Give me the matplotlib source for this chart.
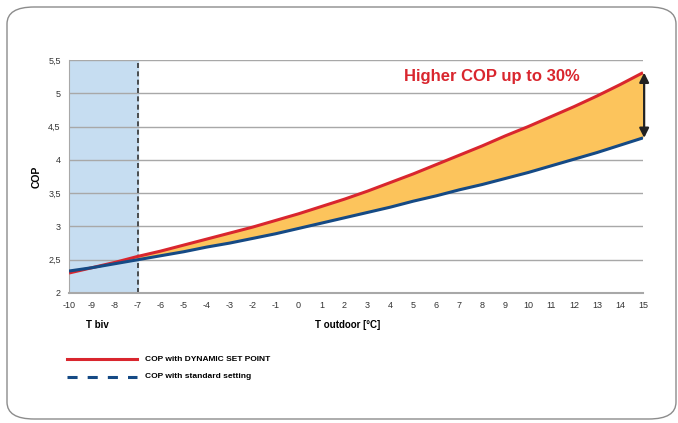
import matplotlib.pyplot as plt
from matplotlib.patches import FancyBboxPatch
from matplotlib.lines import Line2D
import numpy as np

plt.rcParams['font.family'] = ['Liberation Sans', 'DejaVu Sans']

# outdoor temperature [°C]
t_outdoor = list(range(-10, 16))
# COP with dynamic set point (red)
cop_dynamic = [2.30, 2.38, 2.46, 2.55, 2.63, 2.72, 2.81, 2.90, 2.99, 3.09,
               3.19, 3.30, 3.41, 3.53, 3.66, 3.79, 3.93, 4.07, 4.21, 4.36,
               4.50, 4.65, 4.80, 4.96, 5.13, 5.31]
# COP with standard setting (blue)
cop_standard = [2.33, 2.38, 2.44, 2.50, 2.56, 2.62, 2.69, 2.75, 2.82, 2.89,
                2.97, 3.05, 3.13, 3.21, 3.29, 3.38, 3.46, 3.55, 3.63, 3.72,
                3.81, 3.91, 4.01, 4.11, 4.22, 4.33]
y_ticks = [2, 2.5, 3, 3.5, 4, 4.5, 5, 5.5]
y_labels = ["2", "2,5", "3", "3,5", "4", "4,5", "5", "5,5"]
t_biv = -7

RED = "#d9262e"
BLUE = "#154a85"
ORANGE = "#fcc45c"
GRID = "#a8a8a8"

fig = plt.figure(figsize=(6.78, 4.23), dpi=100)
W, H = 678, 423

# rounded frame around everything
frame = FancyBboxPatch((7 / W, 4 / H), (676 - 7) / W, (416 - 4) / H,
                       boxstyle="round,pad=0,rounding_size=0.04",
                       transform=fig.transFigure, fill=False,
                       edgecolor="#8c8c8c", linewidth=1.0)
fig.add_artist(frame)

ax = fig.add_axes([69 / W, 1 - 293 / H, (643 - 69) / W, (293 - 60) / H])

x = np.array(t_outdoor)
red = np.array(cop_dynamic)
blue = np.array(cop_standard)

ax.axvspan(-10, t_biv, color="#c6ddf1", zorder=0)
for yv in y_ticks[1:]:
    ax.axhline(yv, color=GRID, linewidth=1.0, zorder=1)
ax.axvline(t_biv, color="#333333", linestyle=(0, (3, 2)), linewidth=1.2, zorder=2)

ax.fill_between(x, blue, red, where=red >= blue, interpolate=True,
                color=ORANGE, linewidth=0, zorder=3)
ax.plot(x, red, color=RED, linewidth=2.2, zorder=4, solid_capstyle="butt")
ax.plot(x, blue, color=BLUE, linewidth=2.2, zorder=5, solid_capstyle="butt")

# double arrow showing the gain
ax.annotate("", xy=(15.05, red[-1]), xytext=(15.05, blue[-1]),
            arrowprops=dict(arrowstyle="<|-|>", color="#222222", lw=1.6,
                            mutation_scale=14, shrinkA=0, shrinkB=0),
            zorder=6, annotation_clip=False)

ax.text(8.42, 5.245, "Higher COP up to 30%", color=RED, fontsize=12,
        fontweight="bold", ha="center", va="center")

ax.set_xlim(-10, 15)
ax.set_ylim(2, 5.5)
ax.set_xticks(t_outdoor)
ax.set_xticklabels([str(v) for v in t_outdoor])
ax.set_yticks(y_ticks)
ax.set_yticklabels(y_labels)
ax.tick_params(length=0, labelsize=6.5, colors="#333333", pad=6)
for s in ["top", "right"]:
    ax.spines[s].set_visible(False)
ax.spines["left"].set_color(GRID)
ax.spines["bottom"].set_color(GRID)
ax.spines["bottom"].set_linewidth(1.5)

ax.set_ylabel("COP", fontsize=7.5, fontweight="bold")
ax.yaxis.set_label_coords(-0.048, 0.5)
fig.text(97 / W, 1 - 325 / H, "T biv", fontsize=7, fontweight="bold",
         ha="center", va="center")
fig.text(348 / W, 1 - 325 / H, "T outdoor [°C]", fontsize=7, fontweight="bold",
         ha="center", va="center")

# legend drawn below the chart
fig.add_artist(Line2D([67 / W, 137 / W], [1 - 359 / H, 1 - 359 / H],
                      color=RED, linewidth=2.2, transform=fig.transFigure))
fig.text(145 / W, 1 - 359 / H, "COP with DYNAMIC SET POINT", fontsize=6,
         fontweight="bold", va="center")
fig.add_artist(Line2D([67 / W, 137 / W], [1 - 377 / H, 1 - 377 / H],
                      color=BLUE, linewidth=2.2, linestyle=(0, (3.3, 3.3)),
                      transform=fig.transFigure))
fig.text(145 / W, 1 - 377 / H, "COP with standard setting", fontsize=6,
         fontweight="bold", va="center")

fig.savefig("out.png", dpi=100)
